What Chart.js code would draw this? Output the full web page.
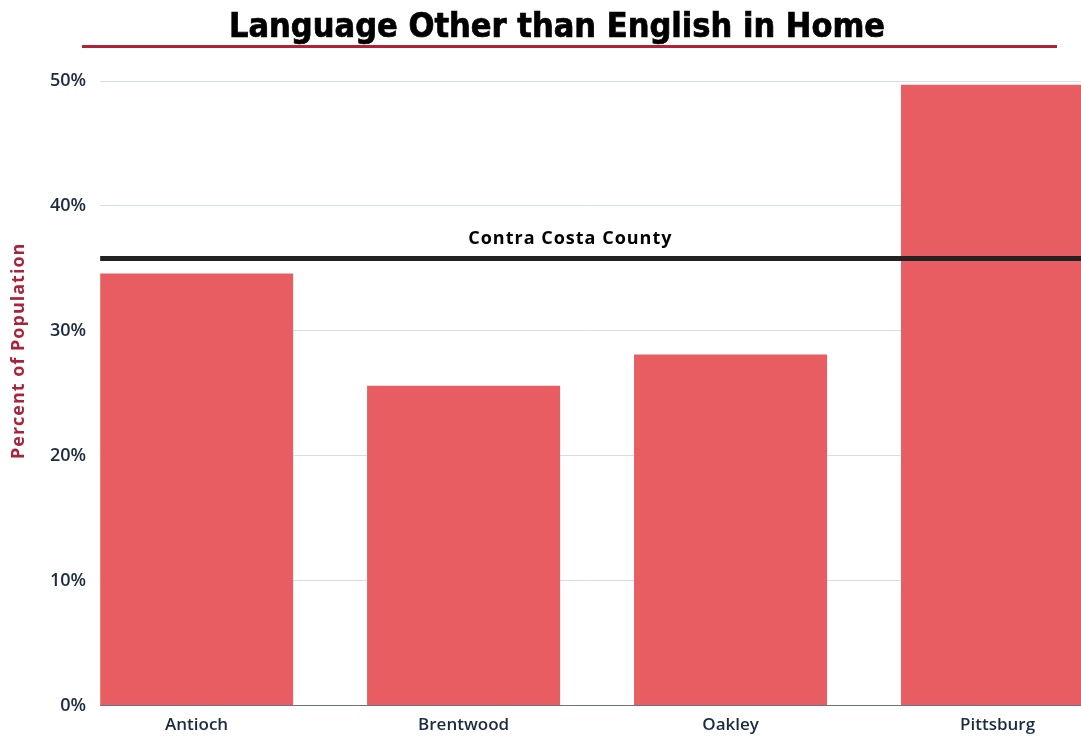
<!DOCTYPE html>
<html>
<head>
<meta charset="utf-8">
<title>Language Other than English in Home</title>
<script src="https://cdn.jsdelivr.net/npm/chart.js@4.4.1/dist/chart.umd.min.js"></script>
<style>
  html, body { margin: 0; padding: 0; background: #ffffff; }
  #wrap { position: relative; width: 1081px; height: 736px; overflow: hidden; }
  #wrap h1 {
    position: absolute; left: 0; top: 3px; width: 1114px; margin: 0;
    text-align: center; color: #000;
    font: bold 34px "Liberation Sans Narrow", "DejaVu Sans Condensed", sans-serif;
    -webkit-text-stroke: 0.7px #000;
    line-height: 44px;
  }
  #wrap .rule { position: absolute; left: 82px; top: 45px; width: 975px; height: 3px; background: #b22234; }
  #wrap canvas { position: absolute; left: 0; top: 0; }
</style>
</head>
<body>
<div id="wrap">
  <canvas id="lang-chart" width="1081" height="736"></canvas>
  <h1>Language Other than English in Home</h1>
  <div class="rule"></div>
</div>
<script>
var cities = ['Antioch', 'Brentwood', 'Oakley', 'Pittsburg'];
var pctOtherLanguage = [34.6, 25.6, 28.1, 49.7];
var countyLabel = 'Contra Costa County';
var countyPct = 35.8;
var yTicks = [0, 10, 20, 30, 40, 50];
var yTitle = 'Percent of Population';

var barColor = '#e75d62';
var navy = '#1c2b3f';

// county reference line + its label, drawn on top of the bars
var countyLine = {
  id: 'countyLine',
  afterDatasetsDraw: function (chart) {
    var ctx = chart.ctx, area = chart.chartArea;
    var y = chart.scales.y.getPixelForValue(countyPct);
    ctx.save();
    ctx.strokeStyle = '#222222';
    ctx.lineWidth = 5;
    ctx.beginPath();
    ctx.moveTo(area.left, y);
    ctx.lineTo(area.right, y);
    ctx.stroke();
    ctx.fillStyle = '#000000';
    ctx.font = 'bold 18px "Open Sans", sans-serif';
    ctx.letterSpacing = '1px';
    ctx.textAlign = 'center';
    ctx.textBaseline = 'middle';
    ctx.fillText(countyLabel, chart.scales.x.getPixelForValue(1.4), y - 20);
    ctx.restore();
  }
};

// rotated y-axis title, sitting a bit above the axis middle
var sideTitle = {
  id: 'sideTitle',
  afterDraw: function (chart) {
    var ctx = chart.ctx;
    var y = chart.scales.y.getPixelForValue(28.4);
    ctx.save();
    ctx.translate(19, y);
    ctx.rotate(-Math.PI / 2);
    ctx.fillStyle = '#a8243a';
    ctx.font = 'bold 18px "Open Sans", sans-serif';
    ctx.letterSpacing = '1px';
    ctx.textAlign = 'center';
    ctx.textBaseline = 'middle';
    ctx.fillText(yTitle, 0, 0);
    ctx.restore();
  }
};

var chrt = document.getElementById('lang-chart').getContext('2d');
var chartId = new Chart(chrt, {
  type: 'bar',
  data: {
    datasets: [{
      label: 'Language other than English',
      data: cities.map(function (c, i) { return { x: i, y: pctOtherLanguage[i] }; }),
      backgroundColor: barColor,
      categoryPercentage: 1,
      barPercentage: 0.723
    }]
  },
  plugins: [countyLine, sideTitle],
  options: {
    responsive: false,
    devicePixelRatio: 1,
    animation: false,
    layout: { padding: { left: 36, right: 0, bottom: -8, top: 81 } },
    plugins: {
      legend: { display: false },
      tooltip: { enabled: false }
    },
    scales: {
      x: {
        type: 'linear',
        offset: false,
        min: -0.3614,
        max: 3.3127,
        grid: { display: false, drawTicks: false, offset: false },
        border: { display: true, color: '#6b7280', width: 1 },
        afterBuildTicks: function (axis) {
          axis.ticks = cities.map(function (c, i) { return { value: i }; });
        },
        ticks: {
          padding: 9,
          maxRotation: 0,
          autoSkip: false,
          color: navy,
          font: { family: '"Open Sans", sans-serif', size: 17, weight: '600' },
          callback: function (v) { return cities[v]; }
        }
      },
      y: {
        min: 0,
        max: 50,
        afterBuildTicks: function (axis) {
          axis.ticks = yTicks.map(function (v) { return { value: v }; });
        },
        grid: { color: '#d9dce2', drawTicks: false },
        border: { display: false },
        ticks: {
          padding: 14,
          color: navy,
          font: { family: '"Open Sans", sans-serif', size: 18, weight: '600' },
          callback: function (v) { return v + '%'; }
        }
      }
    }
  }
});
</script>
</body>
</html>
